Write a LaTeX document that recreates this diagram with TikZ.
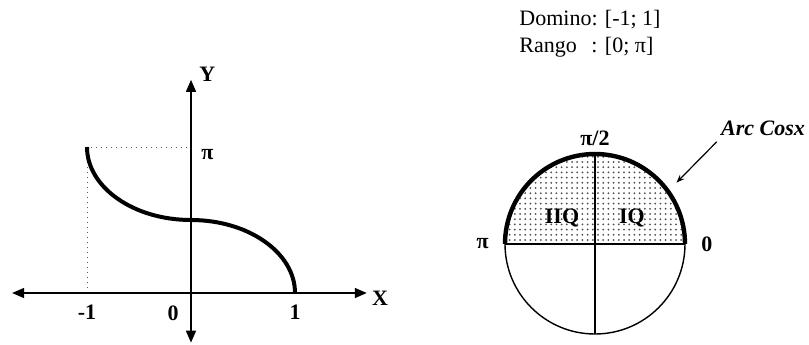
\documentclass[tikz,border=0pt]{standalone}
\usepackage{fontspec}
\setmainfont{Liberation Serif}
\usepackage{tikz}
\usetikzlibrary{positioning, arrows.meta, patterns.meta}

\begin{document}
\begin{tikzpicture}[
    x=0.5pt, y=0.5pt,
    font=\fontsize{11}{13.5}\selectfont,
    % Axes and curves
    axis/.style={line width=0.75pt, {Triangle[length=6pt,width=5pt]}-{Triangle[length=6pt,width=5pt]}},
    curve/.style={line width=2pt},
    guide/.style={dotted, gray!70!black, line width=0.5pt},
    % Circle
    rim/.style={line width=0.7pt},
    arcrim/.style={line width=2.2pt},
    shade/.style={pattern={Dots[distance=2.6pt,radius=0.5pt]}, pattern color=gray!60!black},
    % Labels
    lbl/.style={font=\fontsize{11}{13.5}\selectfont\bfseries, inner sep=0pt}
]
    \useasboundingbox (0,0) rectangle (809,344);

    % --- GRAPH OF ARC COS ---
    \begin{scope}[shift={(95.5pt,25.5pt)}, x=52pt, y=73pt]
        \coordinate (xl) at (-1.72,0);
        \coordinate (xr) at (1.69,0);
        \coordinate (yb) at (0,-0.34);
        \coordinate (yt) at (0,1.46);
        \coordinate (start) at (-1,1);
        \coordinate (ypi) at (0,1);
        \coordinate (mid) at (0,0.5);
        \coordinate (end) at (1,0);

        % dotted guides
        \draw[guide] (-1,0) -- (start) -- (ypi);

        % axes
        \draw[axis] (xl) -- (xr);
        \draw[axis] (yb) -- (yt);
        \node[lbl, right=2.5pt of xr, yshift=-2.5pt] (X) {X};
        \node[lbl, right=4pt of yt, yshift=3pt] (Y) {Y};

        % ticks
        \node[lbl, below=6pt of {(-1,0)}] (t-1) {-1};
        \node[lbl, below=6pt of {(0,0)}, xshift=-9pt] (t0) {0};
        \node[lbl, below=6pt of {(1,0)}] (t1) {1};
        \node[lbl, right=5pt of ypi, yshift=-4pt] (tpi) {π};

        % curve
        \draw[curve] (start) arc[start angle=180, end angle=270, x radius=52pt, y radius=36.5pt];
        \draw[curve] (mid) arc[start angle=90, end angle=0, x radius=52pt, y radius=36.5pt];
    \end{scope}

    % --- DOMAIN AND RANGE ---
    \node[anchor=west, inner sep=0pt] (dom) at (519,310.5)
        {\begin{tabular}{@{}l@{}l@{}}Domino&: [-1; 1]\\Rango&: [0; π]\end{tabular}};

    % --- UNIT CIRCLE ---
    \coordinate (O) at (595,100);
    \coordinate (E) at ([xshift=45pt]O);
    \coordinate (W) at ([xshift=-45pt]O);
    \coordinate (N) at ([yshift=45pt]O);
    \coordinate (S) at ([yshift=-45pt]O);

    \fill[shade] (E) arc[start angle=0, end angle=180, radius=45pt] -- cycle;
    \draw[rim] (O) circle[radius=45pt];
    \draw[rim] (W) -- (E);
    \draw[rim] (N) -- (S);
    \draw[arcrim] (E) arc[start angle=0, end angle=180, radius=45pt];

    \node[lbl, above=4pt of N] (half) {π/2};
    \node[lbl, left=8pt of W] (pi) {π};
    \node[lbl, right=8pt of E] (zero) {0};
    \node[lbl] (IIQ) at ([shift={(-16.5pt,13pt)}]O) {IIQ};
    \node[lbl] (IQ) at ([shift={(18.5pt,13pt)}]O) {IQ};

    % --- ARC LABEL ---
    \node[lbl, font=\fontsize{11}{13.5}\selectfont\bfseries\itshape] (acos) at (763,216) {Arc Cosx};
    \coordinate (tip) at ([shift={(37:51pt)}]O);
    \draw[-{Stealth[length=4pt,width=3pt]}, line width=0.6pt] ([xshift=-2pt,yshift=-3pt]acos.south west) -- (tip);

\end{tikzpicture}
\end{document}
